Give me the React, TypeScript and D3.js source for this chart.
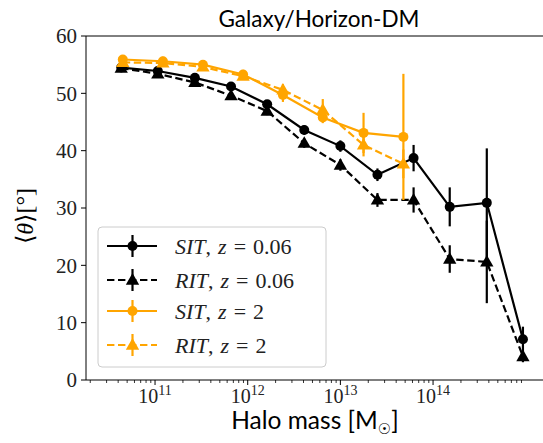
import React from "react";
import * as d3 from "d3";

// ---- data ----
const blackMassLog = [10.635, 11.03, 11.43, 11.82, 12.21, 12.61, 13.0, 13.4, 13.79, 14.18, 14.58, 14.97];
const sitZ006 = [54.5, 53.9, 52.7, 51.2, 48.1, 43.6, 40.8, 35.8, 38.7, 30.2, 30.9, 7.1];
const sitZ006Err = [0.4, 0.4, 0.5, 0.6, 0.7, 0.8, 1.0, 1.1, 2.3, 3.4, 9.5, 2.2];
const ritZ006 = [54.4, 53.4, 51.9, 49.6, 46.9, 41.3, 37.5, 31.4, 31.4, 21.1, 20.6, 4.1];
const ritZ006Err = [0.4, 0.4, 0.5, 0.6, 0.7, 0.8, 1.0, 1.2, 2.2, 2.4, 7.2, 1.0];

const orangeMassLog = [10.652, 11.085, 11.517, 11.95, 12.38, 12.81, 13.25, 13.68];
const sitZ2 = [55.9, 55.6, 55.0, 53.3, 49.7, 45.8, 43.1, 42.4];
const sitZ2Err = [0.4, 0.4, 0.5, 0.6, 1.2, 1.0, 3.5, 11.0];
const ritZ2 = [55.4, 55.3, 54.6, 53.0, 50.6, 47.1, 41.0, 37.7];
const ritZ2Err = [0.4, 0.4, 0.5, 0.6, 1.0, 1.9, 2.0, 2.5];

const yTicks = [0, 10, 20, 30, 40, 50, 60];
const xMajorExp = [11, 12, 13, 14];

const BLACK = "#000000";
const ORANGE = "#FFA500";

type Series = {
  name: string;
  label: string;
  xs: number[];
  ys: number[];
  errs: number[];
  color: string;
  dashed: boolean;
  marker: "circle" | "triangle";
};

const series: Series[] = [
  { name: "SIT", label: "0.06", xs: blackMassLog, ys: sitZ006, errs: sitZ006Err, color: BLACK, dashed: false, marker: "circle" },
  { name: "RIT", label: "0.06", xs: blackMassLog, ys: ritZ006, errs: ritZ006Err, color: BLACK, dashed: true, marker: "triangle" },
  { name: "SIT", label: "2", xs: orangeMassLog, ys: sitZ2, errs: sitZ2Err, color: ORANGE, dashed: false, marker: "circle" },
  { name: "RIT", label: "2", xs: orangeMassLog, ys: ritZ2, errs: ritZ2Err, color: ORANGE, dashed: true, marker: "triangle" },
];

const W = 543;
const H = 443;
const left = 86;
const right = 552;
const top = 36;
const bottom = 380;

const serif = "'Liberation Serif', 'DejaVu Serif', serif";
const sans = "'Lato', 'DejaVu Sans', sans-serif";

function Marker({ x, y, kind, color }: { x: number; y: number; kind: string; color: string }) {
  if (kind === "circle") return <circle cx={x} cy={y} r={5} fill={color} />;
  const s = 6.2;
  const sym = d3.symbol().type(d3.symbolTriangle).size(s * s * 2.0)();
  return <path d={sym as string} transform={`translate(${x},${y + 0.8})`} fill={color} />;
}

export default function App() {
  const x = d3.scaleLog().domain([Math.pow(10, 10.255), Math.pow(10, 10.255 + (right - left) / 92.67)]).range([left, right]);
  const y = d3.scaleLinear().domain([0, 60]).range([bottom, top]);

  const line = d3
    .line<[number, number]>()
    .x((d) => x(Math.pow(10, d[0])))
    .y((d) => y(d[1]));

  const minorTicks: number[] = [];
  for (let e = 10; e <= 15; e++) {
    for (let m = 2; m <= 9; m++) {
      const v = m * Math.pow(10, e);
      const px = x(v);
      if (px >= left - 0.5 && px <= W) minorTicks.push(v);
    }
  }

  const legendX = 98;
  const legendY = 227;
  const legendRowY = [246, 280, 311, 345];

  return (
    <svg width={W} height={H} style={{ position: "absolute", left: 0, top: 0, background: "#fff" }}>
      <defs>
        <clipPath id="plotclip">
          <rect x={left} y={0} width={right - left} height={H} />
        </clipPath>
      </defs>
      {/* series */}
      <g clipPath="url(#plotclip)">
        {series.map((s, i) => {
          const pts = s.xs.map((xv, j) => [xv, s.ys[j]] as [number, number]);
          return (
            <g key={i}>
              {pts.map((p, j) => (
                <line
                  key={"e" + j}
                  x1={x(Math.pow(10, p[0]))}
                  x2={x(Math.pow(10, p[0]))}
                  y1={y(p[1] - s.errs[j])}
                  y2={y(p[1] + s.errs[j])}
                  stroke={s.color}
                  strokeWidth={2.2}
                />
              ))}
              <path
                d={line(pts) as string}
                fill="none"
                stroke={s.color}
                strokeWidth={2.2}
                strokeDasharray={s.dashed ? "7.4,3.6" : undefined}
              />
              {pts.map((p, j) => (
                <Marker key={"m" + j} x={x(Math.pow(10, p[0]))} y={y(p[1])} kind={s.marker} color={s.color} />
              ))}
            </g>
          );
        })}
      </g>

      {/* axes spines */}
      <line x1={left} x2={left} y1={top} y2={bottom} stroke="#000" strokeWidth={1} />
      <line x1={left} x2={W} y1={bottom} y2={bottom} stroke="#000" strokeWidth={1} />
      <line x1={left} x2={W} y1={top} y2={top} stroke="#000" strokeWidth={1} />

      {/* y ticks */}
      {yTicks.map((t) => (
        <g key={t}>
          <line x1={left - 5} x2={left} y1={y(t)} y2={y(t)} stroke="#000" strokeWidth={1} />
          <text x={left - 9} y={y(t)} dy="0.35em" textAnchor="end" fontFamily={serif} fontSize={21} fill="#222">
            {t}
          </text>
        </g>
      ))}

      {/* x ticks */}
      {minorTicks.map((v, i) => (
        <line key={i} x1={x(v)} x2={x(v)} y1={bottom} y2={bottom + 3} stroke="#000" strokeWidth={0.8} />
      ))}
      {xMajorExp.map((e) => {
        const px = x(Math.pow(10, e));
        return (
          <g key={e}>
            <line x1={px} x2={px} y1={bottom} y2={bottom + 5} stroke="#000" strokeWidth={1} />
            <text x={px} y={bottom + 23} textAnchor="middle" fontFamily={serif} fontSize={20} fill="#222">
              10
              <tspan fontSize={14} dy={-8}>
                {e}
              </tspan>
            </text>
          </g>
        );
      })}

      {/* title */}
      <text x={(left + right) / 2} y={27} textAnchor="middle" fontFamily={sans} fontSize={22.5} fill="#000">
        Galaxy/Horizon-DM
      </text>

      {/* x label */}
      <text x={315} y={429} textAnchor="middle" fontFamily={sans} fontSize={24.5} fill="#000">
        Halo mass [M
        <tspan fontSize={15} dy={5}>☉</tspan>
        <tspan dy={-5}>]</tspan>
      </text>

      {/* y label */}
      <text
        transform={`translate(33,${(top + bottom) / 2 + 8}) rotate(-90)`}
        textAnchor="middle"
        fontFamily={serif}
        fontSize={24}
        fill="#000"
      >
        ⟨<tspan fontStyle="italic">θ</tspan>⟩[°]
      </text>

      {/* legend */}
      <rect x={legendX} y={legendY} width={228} height={140} rx={4} fill="#fff" fillOpacity={0.8} stroke="#ccc" strokeWidth={1} />
      {series.map((s, i) => {
        const ly = legendRowY[i];
        return (
          <g key={"l" + i}>
            <line x1={107} x2={157} y1={ly} y2={ly} stroke={s.color} strokeWidth={2.2} strokeDasharray={s.dashed ? "7.4,3.6" : undefined} />
            <line x1={132.5} x2={132.5} y1={ly - 11} y2={ly + 11} stroke={s.color} strokeWidth={2.2} />
            <Marker x={132.5} y={ly} kind={s.marker} color={s.color} />
            <text x={175} y={ly} dy="0.35em" fontFamily={serif} fontSize={22} fill="#222">
              <tspan fontStyle="italic">{s.name}</tspan>
              <tspan>,</tspan>
              <tspan dx={7} fontStyle="italic">z</tspan>
              <tspan dx={7}>=</tspan>
              <tspan dx={7}>{s.label}</tspan>
            </text>
          </g>
        );
      })}
    </svg>
  );
}
